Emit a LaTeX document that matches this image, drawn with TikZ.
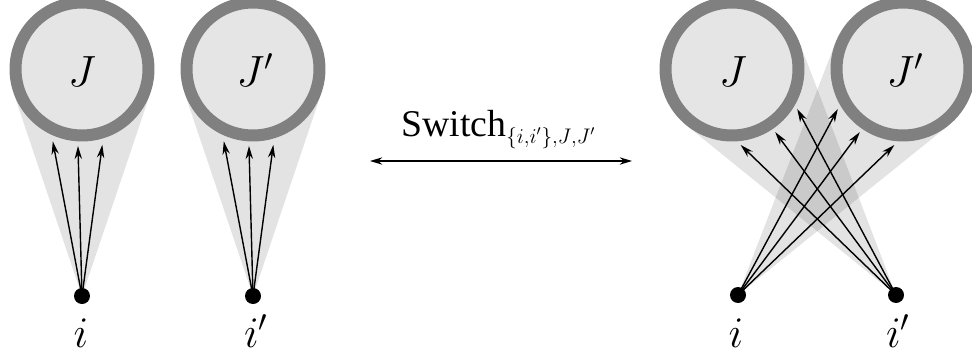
\documentclass[tikz,border=0pt]{standalone}
\usepackage{fontspec}
\setmainfont{Liberation Serif}
\usetikzlibrary{calc,arrows.meta,backgrounds}
\begin{document}
\begin{tikzpicture}[x=0.02cm,y=-0.02cm,
  ring/.style={circle,draw=black!50,fill=black!10,line width=0.24cm,minimum size=2.66cm,inner sep=0pt},
  dotnode/.style={circle,fill=black,minimum size=0.32cm,inner sep=0pt},
  lbl/.style={font=\fontsize{23}{27}\selectfont,inner sep=0pt,anchor=base},
  cone/.style={fill=black,fill opacity=0.11},
  ray/.style={-{Stealth[length=7.5pt,width=4.2pt]},line width=0.8pt},
  swarrow/.style={{Stealth[length=7pt,width=4.2pt]}-{Stealth[length=7pt,width=4.2pt]},line width=0.8pt},
]
\useasboundingbox (0,0) rectangle (972,355);
% circles
\node[ring] (J1) at (82,69) {};
\node[ring] (J1p) at (253,69) {};
\node[ring] (J2) at (732,69) {};
\node[ring] (J2p) at (903,69) {};
\node[lbl] (tJ1) at (82,86) {$J$};
\node[lbl] (tJ1p) at (255,86) {$J'$};
\node[lbl] (tJ2) at (733,86) {$J$};
\node[lbl] (tJ2p) at (905,86) {$J'$};
% dots
\node[dotnode] (i1) at (82,296) {};
\node[dotnode] (i1p) at (253,296) {};
\node[dotnode] (i2) at (738,295) {};
\node[dotnode] (i2p) at (896,295) {};
\node[lbl] (ti1) at (81,347) {$i$};
\node[lbl] (ti1p) at (256,347) {$i'$};
\node[lbl] (ti2) at (736,347) {$i$};
\node[lbl] (ti2p) at (898,347) {$i'$};
% arrow tip coordinates
\coordinate (a1) at ($(J1.center)+(248:1.56cm)$);
\coordinate (a2) at ($(J1.center)+(267:1.54cm)$);
\coordinate (a3) at ($(J1.center)+(285:1.57cm)$);
\coordinate (b1) at ($(J1p.center)+(248:1.56cm)$);
\coordinate (b2) at ($(J1p.center)+(267:1.54cm)$);
\coordinate (b3) at ($(J1p.center)+(285:1.57cm)$);
\coordinate (c1) at ($(J2.center)+(276.5:1.53cm)$);
\coordinate (c2) at ($(J2.center)+(304.4:1.53cm)$);
\coordinate (c3) at ($(J2.center)+(328.5:1.53cm)$);
\coordinate (d1) at ($(J2p.center)+(211.5:1.53cm)$);
\coordinate (d2) at ($(J2p.center)+(235.6:1.53cm)$);
\coordinate (d3) at ($(J2p.center)+(263.5:1.53cm)$);
\begin{scope}[on background layer]
  \fill[cone] (i1.center) -- (tangent cs:node=J1,point={(i1.center)},solution=1)
     -- (tangent cs:node=J1,point={(i1.center)},solution=2) -- cycle;
  \fill[cone] (i1p.center) -- (tangent cs:node=J1p,point={(i1p.center)},solution=1)
     -- (tangent cs:node=J1p,point={(i1p.center)},solution=2) -- cycle;
  \fill[cone] (i2p.center) -- (tangent cs:node=J2,point={(i2p.center)},solution=1)
     -- (tangent cs:node=J2,point={(i2p.center)},solution=2) -- cycle;
  \fill[cone] (i2.center) -- (tangent cs:node=J2p,point={(i2.center)},solution=1)
     -- (tangent cs:node=J2p,point={(i2.center)},solution=2) -- cycle;
  \foreach \t in {a1,a2,a3} \draw[ray] (i1.center) -- (\t);
  \foreach \t in {b1,b2,b3} \draw[ray] (i1p.center) -- (\t);
  \foreach \t in {c1,c2,c3} \draw[ray] (i2p.center) -- (\t);
  \foreach \t in {d1,d2,d3} \draw[ray] (i2.center) -- (\t);
\end{scope}
% switch
\coordinate (sl) at (370,161);
\coordinate (sr) at (632,161);
\draw[swarrow] (sl) -- (sr);
\node[anchor=base west,inner sep=0pt] (sw) at (401,136)
  {\fontsize{21.5}{25}\selectfont Switch\raisebox{-4pt}{\fontsize{12}{14}\selectfont$\{i{,}i'\}{,}J{,}J'$}};
\end{tikzpicture}
\end{document}
